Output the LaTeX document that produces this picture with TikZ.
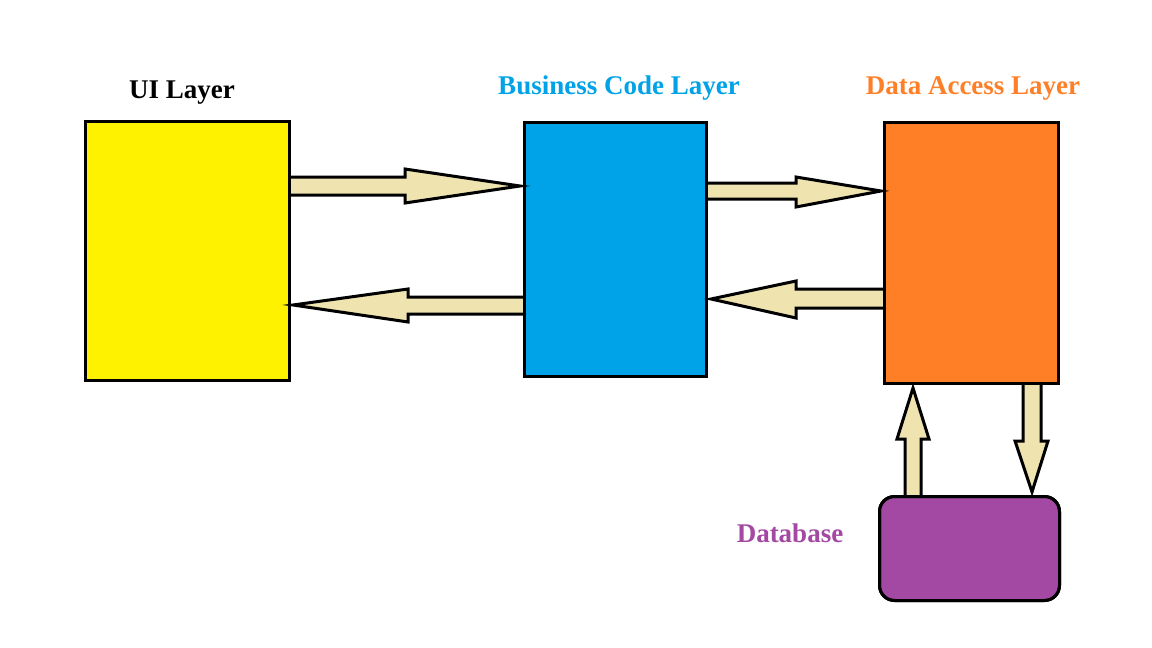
\documentclass[tikz,border=0pt]{standalone}
\usepackage{fontspec}
\setmainfont{Liberation Serif}
\definecolor{uiyellow}{HTML}{FFF200}
\definecolor{bizblue}{HTML}{00A2E8}
\definecolor{dataorange}{HTML}{FF7F27}
\definecolor{dbpurple}{HTML}{A349A4}
\definecolor{arrowfill}{HTML}{EFE4B0}
\begin{document}
\begin{tikzpicture}[x=1pt,y=-1pt,
  layerbox/.style={draw=black,line width=3pt,inner sep=0pt,outer sep=0pt,anchor=north west},
  blockarrow/.style={draw=black,fill=arrowfill,line width=3pt,line join=miter,miter limit=20},
  lbl/.style={font=\fontsize{27}{30}\selectfont\bfseries,inner sep=0pt,anchor=base}]
\useasboundingbox (0,0) rectangle (1152,648);
\fill[white] (0,0) rectangle (1152,648);
% boxes
\node[layerbox,fill=uiyellow,minimum width=204pt,minimum height=259pt] (ui) at (85.5,121.5) {};
\node[layerbox,fill=bizblue,minimum width=182pt,minimum height=254pt] (biz) at (524.5,122.5) {};
\node[layerbox,fill=dataorange,minimum width=174pt,minimum height=261pt] (dal) at (884.5,122.5) {};
\node[layerbox,fill=dbpurple,rounded corners=15pt,minimum width=180pt,minimum height=104pt] (db) at (879.5,496.5) {};
% labels
\node[lbl,text=black] (uil) at (182,98) {UI Layer};
\node[lbl,text=bizblue] (bizl) at (619,94) {Business Code Layer};
\node[lbl,text=dataorange] (dall) at (973,94) {Data Access Layer};
\node[lbl,text=dbpurple] (dbl) at (790,542) {Database};
% arrows
\draw[blockarrow] (290,177) -- (405,177) -- (405,169) -- (520,186) -- (405,203) -- (405,195) -- (290,195);
\draw[blockarrow] (524,297) -- (408,297) -- (408,289) -- (293,305) -- (408,322) -- (408,314) -- (524,314);
\draw[blockarrow] (707,183) -- (796,183) -- (796,177) -- (881,191) -- (796,207) -- (796,199) -- (707,199);
\draw[blockarrow] (884,289) -- (796,289) -- (796,281) -- (711,299) -- (796,318) -- (796,308) -- (884,308);
\draw[blockarrow] (905,496) -- (905,439) -- (897,439) -- (913,388) -- (929,439) -- (921,439) -- (921,496);
\draw[blockarrow] (1023,384) -- (1023,441) -- (1015,441) -- (1032,492) -- (1048,441) -- (1041,441) -- (1041,384);
% redraw box borders on top
\draw[line width=3pt] (ui.north west) rectangle (ui.south east);
\draw[line width=3pt] (biz.north west) rectangle (biz.south east);
\draw[line width=3pt] (dal.north west) rectangle (dal.south east);
\draw[line width=3pt,rounded corners=15pt] (db.north west) rectangle (db.south east);
\end{tikzpicture}
\end{document}
